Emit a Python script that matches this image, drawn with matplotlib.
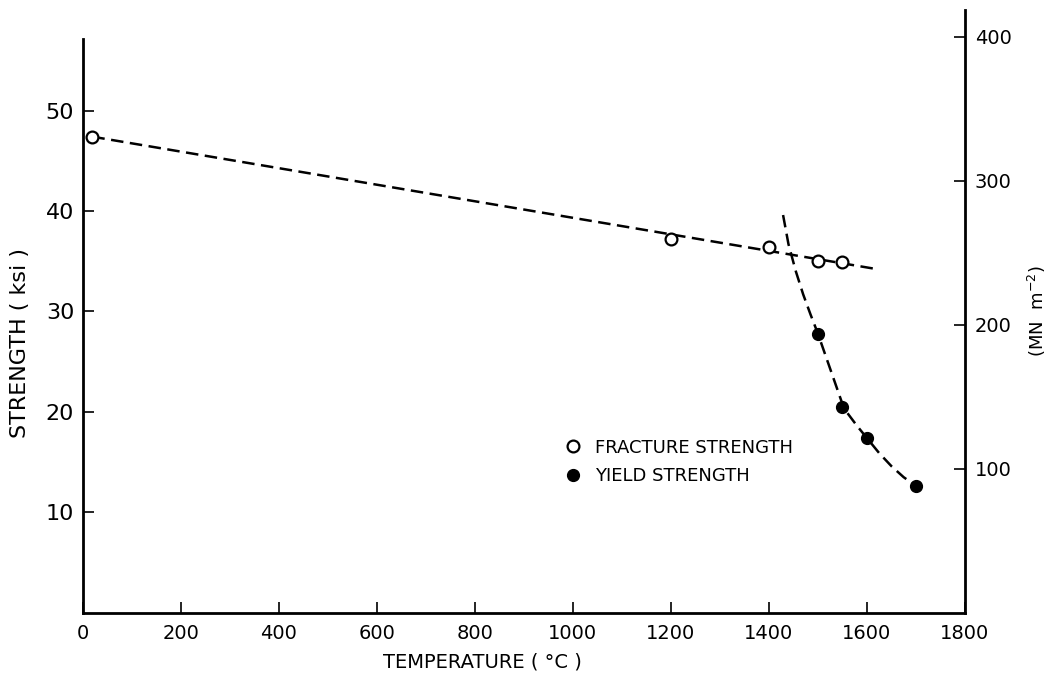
import matplotlib.pyplot as plt

# fracture strength (open circles), ksi
frac_temp = [20, 1200, 1400, 1500, 1550]
frac_ksi = [47.4, 37.2, 36.4, 35.0, 34.9]

# yield strength (filled circles), ksi
yield_temp = [1500, 1550, 1600, 1700]
yield_ksi = [27.8, 20.5, 17.4, 12.6]

# dashed trend lines
frac_fit_temp = [20, 1622]
frac_fit_ksi = [47.4, 34.2]
yield_fit_temp = [1429, 1440, 1455, 1470, 1485, 1500, 1520, 1540, 1550, 1560,
                  1580, 1600, 1625, 1650, 1675, 1701]
yield_fit_ksi = [39.6, 36.7, 34.0, 31.7, 29.7, 27.8, 25.0, 22.2, 20.8, 19.9,
                 18.6, 17.4, 15.9, 14.6, 13.5, 12.6]

x_ticks = [0, 200, 400, 600, 800, 1000, 1200, 1400, 1600, 1800]
ksi_ticks = [10, 20, 30, 40, 50]
mn_ticks = [100, 200, 300, 400]

plt.rcParams['font.family'] = ['DejaVu Sans']

fig = plt.figure(figsize=(10.5, 6.74), dpi=100)
ax = fig.add_axes([0.0786, 0.0908, 0.919 - 0.0786, 0.985 - 0.0908])
ax2 = ax.twinx()

lw = 1.8
ax.plot(frac_fit_temp, frac_fit_ksi, color='black', lw=lw, dashes=(5, 2.6), zorder=2)
ax.plot(yield_fit_temp, yield_fit_ksi, color='black', lw=lw, dashes=(5, 2.6), zorder=2)
ax.plot(frac_temp, frac_ksi, 'o', ms=8.5, mfc='white', mec='black', mew=1.6,
        zorder=3, label='FRACTURE STRENGTH')
ax.plot(yield_temp, yield_ksi, 'o', ms=8.5, mfc='black', mec='black',
        zorder=3, label='YIELD STRENGTH')

ax.set_xlim(0, 1800)
ax.set_ylim(0, 60)
ax2.set_ylim(0, 418.6)

ax.set_xticks(x_ticks)
ax.set_yticks(ksi_ticks)
ax2.set_yticks(mn_ticks)

ax.spines['top'].set_visible(False)
ax.spines['right'].set_visible(False)
ax.spines['left'].set_bounds(0, 57.1)
ax.spines['left'].set_linewidth(2.0)
ax.spines['bottom'].set_linewidth(2.0)
for s in ['top', 'left', 'bottom']:
    ax2.spines[s].set_visible(False)
ax2.spines['right'].set_linewidth(2.0)

ax.tick_params(axis='x', direction='in', length=8, width=1.2, labelsize=14, pad=8)
ax.tick_params(axis='y', direction='in', length=8, width=1.2, labelsize=16, pad=6)
ax2.tick_params(axis='y', direction='in', length=8, width=1.2, labelsize=14, pad=7)

fig.text(482 / 1050, 1 - 662 / 674, 'TEMPERATURE ( °C )', fontsize=14,
         ha='center', va='center')
fig.text(20 / 1050, 1 - 343 / 674, 'STRENGTH ( ksi )', fontsize=16,
         rotation=90, ha='center', va='center')
fig.text(1037 / 1050, 1 - 311 / 674, '(MN  m$^{-2}$)', fontsize=13,
         rotation=90, ha='center', va='center')

ax.legend(loc='center left', bbox_to_anchor=(564 / 1050, 1 - 462 / 674),
          bbox_transform=fig.transFigure, frameon=False, fontsize=13,
          handlelength=1.0, handletextpad=0.7, borderpad=0, borderaxespad=0,
          labelspacing=0.6)

fig.savefig('out.png', dpi=100)
